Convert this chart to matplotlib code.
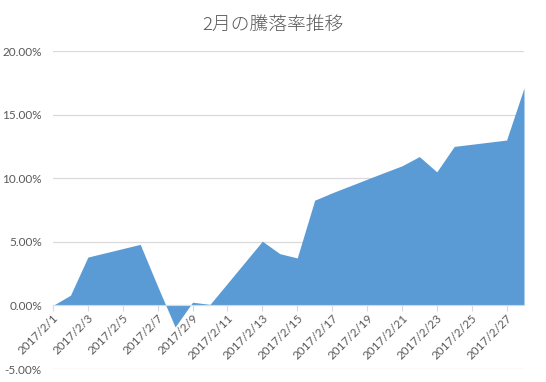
import pandas as pd
import matplotlib
matplotlib.use('Agg')
import matplotlib.pyplot as plt
import matplotlib.dates as mdates
from matplotlib.ticker import FuncFormatter, MultipleLocator

plt.rcParams['font.family'] = ['Lato', 'Noto Sans CJK JP', 'DejaVu Sans']

# 営業日ごとの騰落率 (%)
dates = ['2017-02-01', '2017-02-02', '2017-02-03', '2017-02-06', '2017-02-07',
         '2017-02-08', '2017-02-09', '2017-02-10', '2017-02-13', '2017-02-14',
         '2017-02-15', '2017-02-16', '2017-02-17', '2017-02-20', '2017-02-21',
         '2017-02-22', '2017-02-23', '2017-02-24', '2017-02-27', '2017-02-28']
rate = [0.0, 0.8, 3.8, 4.8, 1.5,
        -1.7, 0.25, 0.08, 5.05, 4.07,
        3.73, 8.27, 8.85, 10.45, 10.97,
        11.7, 10.5, 12.5, 13.0, 17.1]
title = '2月の騰落率推移'

x = pd.to_datetime(dates)
grey = '#595959'

fig = plt.figure(figsize=(5.46, 3.82), dpi=100)
ax = fig.add_axes([53/546, 1-369/382, (524-53)/546, (369-51)/382])

ax.fill_between(x, 0, rate, color='#5B9BD5', linewidth=0, zorder=2)

ax.set_xlim(pd.Timestamp('2017-02-01'), pd.Timestamp('2017-02-28'))
ax.set_ylim(-5, 20)
ax.yaxis.set_major_locator(MultipleLocator(5))
ax.yaxis.set_major_formatter(FuncFormatter(lambda v, p: '%.2f%%' % v))
ax.grid(axis='y', color='#d9d9d9', linewidth=0.9, zorder=0)

ax.xaxis.set_major_locator(mdates.DayLocator(bymonthday=range(1, 32, 2)))
ax.xaxis.set_major_formatter(FuncFormatter(
    lambda v, p: '{0.year}/{0.month}/{0.day}'.format(mdates.num2date(v))))

for s in ['left', 'right', 'top']:
    ax.spines[s].set_visible(False)
ax.spines['bottom'].set_position(('data', 0))
ax.spines['bottom'].set_color('#d9d9d9')
ax.spines['bottom'].set_zorder(3)

ax.tick_params(axis='y', length=0, labelsize=8.5, labelcolor=grey, pad=8)
ax.tick_params(axis='x', length=4, color='#d9d9d9', labelsize=8.5,
               labelcolor=grey, pad=1)
for lab in ax.get_xticklabels():
    lab.set_rotation(45)
    lab.set_ha('right')
    lab.set_rotation_mode('anchor')

fig.text(0.5, 1-25/382, title, ha='center', va='center', fontsize=13.5,
         color=grey, fontweight='light',
         family=['Noto Sans CJK JP', 'DejaVu Sans'])

fig.savefig('out.png', dpi=100)
